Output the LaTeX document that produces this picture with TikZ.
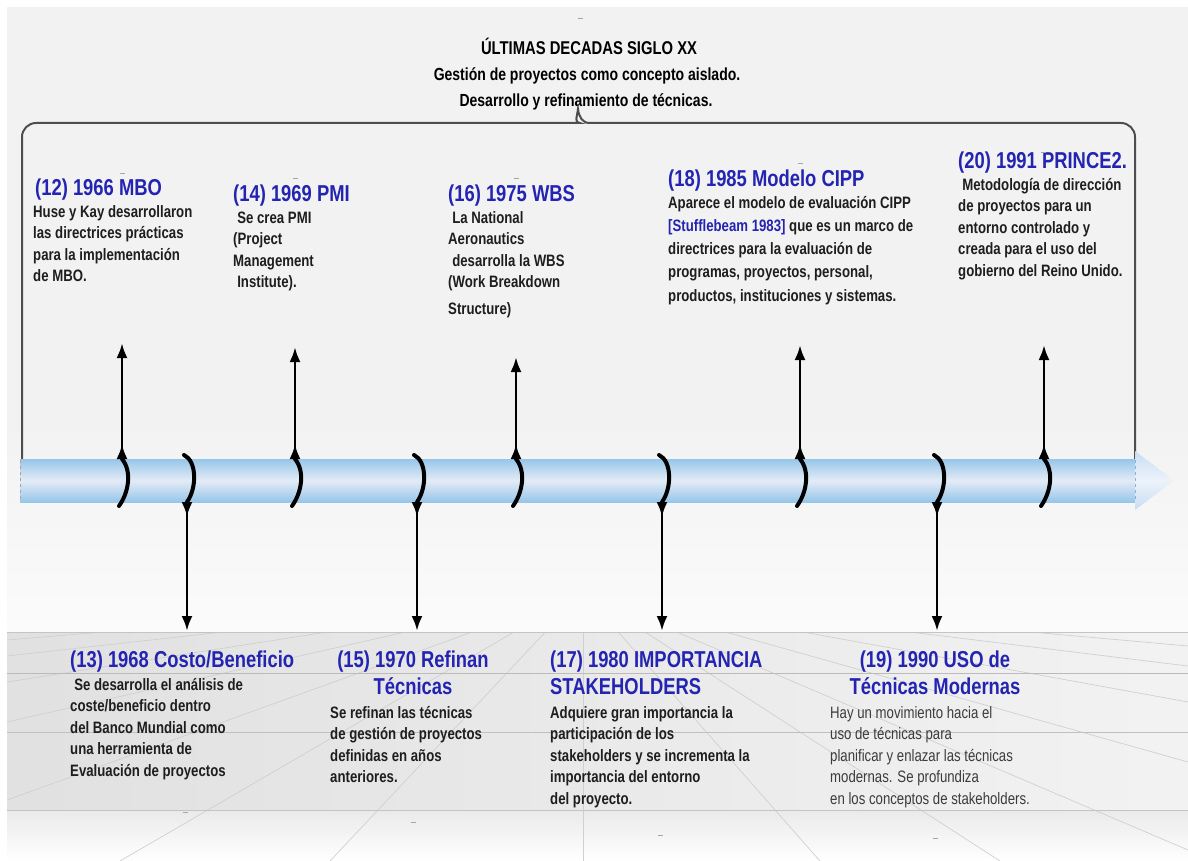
\documentclass[tikz,border=0pt]{standalone}
\usepackage{fontspec}
\setmainfont{Liberation Sans}[FakeStretch=0.8]
\usetikzlibrary{arrows.meta}

\definecolor{ttlblue}{RGB}{36,36,178}
\definecolor{bodytxt}{RGB}{30,30,30}
\definecolor{lighttxt}{RGB}{60,60,60}
\definecolor{bracegray}{RGB}{78,78,78}
\definecolor{barblue}{RGB}{150,198,233}
\definecolor{barpale}{RGB}{228,235,246}
\definecolor{tipblue}{RGB}{200,222,242}
\definecolor{tippale}{RGB}{236,242,250}
\definecolor{bgtop}{RGB}{242,242,242}
\definecolor{bgmid}{RGB}{251,251,251}
\definecolor{floorgray}{RGB}{234,234,234}
\definecolor{floorline}{RGB}{196,196,196}
\definecolor{perspline}{RGB}{208,208,208}

\tikzset{
  evtitle/.style={font=\bfseries\fontsize{23}{27}\selectfont, text=ttlblue, inner sep=0pt},
  evbody/.style={font=\bfseries\fontsize{16.5}{21.5}\selectfont, text=bodytxt, inner sep=0pt, anchor=north west, align=left},
  evlight/.style={evbody, font=\fontsize{16.5}{21.5}\selectfont, text=lighttxt},
  headtitle/.style={font=\bfseries\fontsize{18.5}{22}\selectfont, text=black, inner sep=0pt, anchor=base},
  headsub/.style={font=\bfseries\fontsize{17.5}{20}\selectfont, text=black, inner sep=0pt, anchor=base},
  evarrow/.style={line width=2.8pt, black,
    arrows={Latex[reversed,length=15pt,width=11pt]-Latex[length=15pt,width=11pt]}},
  evarc/.style={line width=4pt, black, line cap=round},
  bracket/.style={line width=2pt, bracegray},
  tickmark/.style={line width=0.8pt, gray!70},
}

\begin{document}
\begin{tikzpicture}[x=1pt, y=-1pt]
\useasboundingbox (0,0) rectangle (1188,861);

% ---------- background ----------
\fill[white] (0,0) rectangle (1188,861);
\fill[bgtop] (7,7) rectangle (1188,420);
\shade[top color=bgtop, bottom color=bgmid] (7,420) rectangle (1188,632);
\shade[left color=floorgray!96!black, right color=floorgray!60!white] (7,632) rectangle (1188,810);
\shade[top color=floorgray, bottom color=white] (7,810) rectangle (1188,861);

% floor perspective lines
\begin{scope}
  \clip (7,632) rectangle (1188,861);
  \coordinate (vp) at (583,592);
  \foreach \tx/\ty in {7/640, 7/656, 7/682, 7/722, 7/800, 120/861, 330/861,
                       1188/646, 1188/666, 1188/702, 1188/762, 1188/850, 1000/861, 820/861, 583/861}
    \draw[perspline, line width=0.7pt] (vp) -- (\tx,\ty);
\end{scope}
\foreach \yy/\cc in {632/floorline, 673/floorgray!80!black, 732/floorgray!82!black, 810/floorline}
  \draw[\cc, line width=1pt] (7,\yy) -- (1188,\yy);

% ---------- header ----------
\node[headtitle] (head) at (589,55) {ÚLTIMAS DECADAS SIGLO XX};
\node[headsub] (sub1) at (587,81) {Gestión de proyectos como concepto aislado.};
\node[headsub] (sub2) at (586,107) {Desarrollo y refinamiento de técnicas.};

% bracket grouping the upper events
\draw[bracket] (22,460) [rounded corners=14pt] -- (22,123) -- (566,123) [sharp corners]
  .. controls (574,123) and (577,117) .. (578,109)
  .. controls (579,117) and (582,123) .. (590,123)
  [rounded corners=14pt] -- (1135,123) -- (1135,460);

% ---------- time bar ----------
\shade[top color=barblue, bottom color=barblue, middle color=barpale] (20,459) rectangle (1135,502);
\shade[top color=tipblue, bottom color=tipblue, middle color=tippale] (1135,451) -- (1174,480.5) -- (1135,510) -- cycle;
\draw[gray!70, dashed, line width=0.8pt] (20,460) -- (20,501);
\draw[barblue!70!gray, dashed, line width=0.8pt] (1135,460) -- (1135,501);

% ---------- upper events ----------
\foreach \nm/\xx/\yy in {12/122/343, 14/295/347, 16/516/357, 18/800/345, 20/1044/345} {
  \coordinate (b\nm) at (\xx,459);
  \coordinate (c\nm) at (\xx-3,506);
  \coordinate (a\nm) at (\xx,\yy);
  \draw[evarc] (b\nm) .. controls +(10,12) and +(10,-14) .. (c\nm);
  \draw[evarrow] (b\nm) -- (a\nm);
}

% ---------- lower events ----------
\foreach \nm/\xx in {13/187, 15/417, 17/662, 19/937} {
  \coordinate (t\nm) at (\xx-3,455);
  \coordinate (b\nm) at (\xx,502);
  \coordinate (a\nm) at (\xx,631);
  \draw[evarc] (t\nm) .. controls +(13,6) and +(10,-14) .. (b\nm);
  \draw[evarrow] (b\nm) -- (a\nm);
}

% ---------- texts above the bar ----------
\node[evtitle, anchor=base west] (h12) at (35,196) {(12) 1966 MBO};
\node[evbody] (d12) at (33,202) {\strut Huse y Kay desarrollaron\\las directrices prácticas\\para la implementación\\de MBO.};

\node[evtitle, anchor=base west] (h14) at (233,202) {(14) 1969 PMI};
\node[evbody] (d14) at (233,208) {\strut\hspace*{0.25em}Se crea PMI\\(Project\\Management\\\hspace*{0.25em}Institute).};

\node[evtitle, anchor=base west] (h16) at (448,202) {(16) 1975 WBS};
\node[evbody] (d16) at (448,208) {\strut\hspace*{0.25em}La National\\Aeronautics\\\hspace*{0.25em}desarrolla la WBS\\(Work Breakdown\\[5pt]Structure)};

\node[evtitle, anchor=base west] (h18) at (668,187) {(18) 1985 Modelo CIPP};
\node[evbody] (d18) at (668,193) {\strut Aparece el modelo de evaluación CIPP\\[1.5pt]\textcolor{ttlblue}{[Stufflebeam 1983]} que es un marco de\\[1.5pt]directrices para la evaluación de\\[1.5pt]programas, proyectos, personal,\\[3pt]productos, instituciones y sistemas.};

\node[evtitle, anchor=base west] (h20) at (958,169) {(20) 1991 PRINCE2.};
\node[evbody] (d20) at (958,175) {\strut\hspace*{0.25em}Metodología de dirección\\de proyectos para un\\entorno controlado y\\creada para el uso del\\gobierno del Reino Unido.};

% ---------- texts below the bar ----------
\node[evtitle, anchor=base west] (h13) at (70,667) {(13) 1968 Costo/Beneficio};
\node[evbody] (d13) at (70,675) {\strut\hspace*{0.25em}Se desarrolla el análisis de\\coste/beneficio dentro\\del Banco Mundial como\\una herramienta de\\Evaluación de proyectos};

\node[evtitle, anchor=north, align=center] (h15) at (413,648) {\strut(15) 1970 Refinan\\Técnicas};
\node[evbody] (d15) at (330,703) {\strut Se refinan las técnicas\\de gestión de proyectos\\definidas en años\\anteriores.};

\node[evtitle, anchor=north west, align=left] (h17) at (550,648) {\strut(17) 1980 IMPORTANCIA\\STAKEHOLDERS};
\node[evbody] (d17) at (550,703) {\strut Adquiere gran importancia la\\participación de los\\stakeholders y se incrementa la\\importancia del entorno\\del proyecto.};

\node[evtitle, anchor=north, align=center] (h19) at (935,648) {\strut(19) 1990 USO de\\Técnicas Modernas};
\node[evlight] (d19) at (830,703) {\strut Hay un movimiento hacia el\\uso de técnicas para\\planificar y enlazar las técnicas\\modernas. Se profundiza\\en los conceptos de stakeholders.};

% small stray marks
\foreach \xx/\yy in {580/18, 122/173, 295/178, 516/178, 800/163, 1043/152, 185/812, 413/822, 660/835, 935/838}
  \draw[tickmark] (\xx-2.5,\yy) -- (\xx+2.5,\yy);

\end{tikzpicture}
\end{document}
